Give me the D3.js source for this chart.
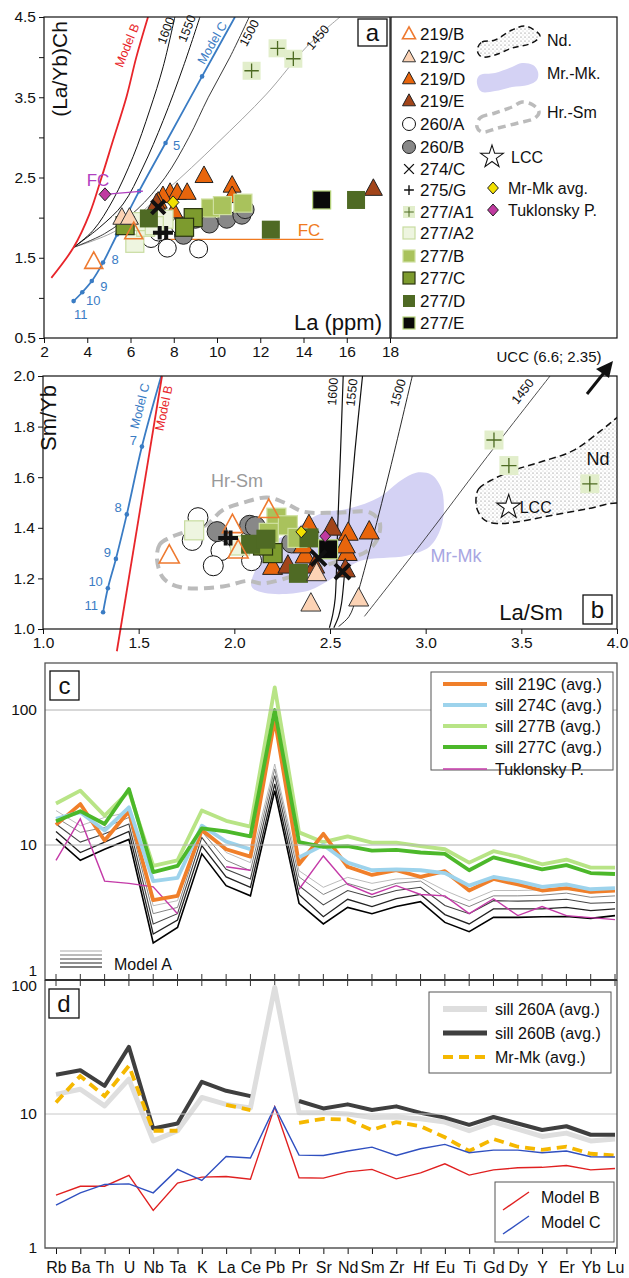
<!DOCTYPE html>
<html><head><meta charset="utf-8">
<script src="https://cdn.jsdelivr.net/npm/d3@7"></script>
<style>body{margin:0;background:#fff} svg{display:block} text{font-family:"Liberation Sans",Arial,sans-serif}</style>
</head><body><script>
// ================= DATA =================
const elements = ["Rb","Ba","Th","U","Nb","Ta","K","La","Ce","Pb","Pr","Sr","Nd","Sm","Zr","Hf","Eu","Ti","Gd","Dy","Y","Er","Yb","Lu"];

// panel a : [La ppm, (La/Yb)Ch]
const a219B = [[4.3,1.45],[6.15,1.82]];
const a219C = [[5.6,2.0],[5.95,2.0]];
const a219D = [[9.4,2.52],[10.7,2.40],[10.7,2.27],[7.83,2.31],[8.16,2.31],[8.62,2.31],[7.5,2.27],[7.28,2.2],[8.0,2.08]];
const a219E = [[17.23,2.36],[7.2,2.18]];
const a260A = [[6.95,1.74],[7.7,1.62],[9.15,1.61],[8.3,1.9],[7.3,1.82]];
const a260B = [[8.45,1.78],[9.0,1.98],[9.65,1.92],[10.45,1.98],[11.15,2.03],[11.3,2.1]];
const a274C = [[7.28,2.13]];
const a275G = [[7.35,1.81],[7.65,1.81]];
const a277A1 = [[11.6,3.83],[12.8,4.11],[13.53,3.98]];
const a277A2 = [[6.2,1.68],[6.7,1.88],[7.55,1.98],[6.4,1.95],[7.1,1.9]];
const a277B = [[9.7,2.12],[10.25,2.15],[11.2,2.18]];
const a277C = [[5.75,1.9],[8.9,2.0],[8.5,1.88]];
const a277D = [[6.85,1.99],[12.49,1.85],[16.43,2.22]];
const a277E = [[14.84,2.22]];
const aMrMk = [[7.97,2.19]];
const aTuk = [[4.82,2.29]];

// panel a curves
const aModelB = [[2.34,1.25],[3.37,1.63],[4.11,2.05],[4.65,2.49],[5.19,2.96],[5.81,3.50],[6.27,4.00],[6.81,4.5]];
const a1600 = [[3.37,1.63],[4.27,1.84],[5.19,2.22],[6.12,2.76],[6.89,3.34],[7.51,3.88],[8.05,4.5]];
const a1550 = [[3.37,1.63],[4.58,1.88],[5.66,2.17],[6.58,2.63],[7.51,3.21],[8.44,3.88],[9.21,4.5]];
const a1500 = [[3.37,1.63],[4.8,1.8],[6.3,2.1],[7.6,2.5],[8.7,3.0],[9.6,3.5],[10.6,4.0],[11.49,4.5]];
const a1450 = [[3.37,1.63],[5.35,1.84],[7.66,2.34],[9.98,2.92],[12.29,3.54],[14.15,4.13],[15.69,4.5]];
const aModelC = [[3.37,0.96],[3.77,1.07],[4.21,1.21],[4.73,1.44],[5.38,1.79],[6.40,2.33],[7.62,2.93],[9.31,3.76],[10.83,4.5]];
const aModelCdots = ["11","10","9","8","","","5",""];
const aFCpurple = [[4.82,2.29],[6.58,2.33]];
const aFCorange = [[6.81,1.73],[14.92,1.73]];
const yTicksA = [0.5,1,1.5,2,2.5,3,3.5,4,4.5];
const yLabelsA = [0.5,1.5,2.5,3.5,4.5];

// panel b : [La/Sm, Sm/Yb]
const b219B = [[1.66,1.29],[1.99,1.41],[2.18,1.47],[2.02,1.31]];
const b219C = [[2.40,1.10],[2.65,1.12],[2.43,1.22]];
const b219D = [[2.39,1.41],[2.595,1.38],[2.705,1.385],[2.59,1.30],[2.37,1.29],[2.36,1.33],[2.20,1.245],[2.58,1.33]];
const b219E = [[2.51,1.40],[2.58,1.235],[2.28,1.25],[2.42,1.25]];
const b260A = [[1.81,1.44],[1.78,1.35],[1.93,1.31],[1.89,1.25],[2.09,1.27],[2.08,1.35]];
const b260B = [[1.91,1.385],[2.08,1.41],[2.11,1.405],[2.30,1.34]];
const b274C = [[2.565,1.227],[2.44,1.28]];
const b275G = [[1.955,1.36],[1.98,1.36]];
const b277A1 = [[3.357,1.747],[3.435,1.646],[3.858,1.574]];
const b277A2 = [[1.79,1.39],[2.03,1.33]];
const b277B = [[2.22,1.44],[2.28,1.41],[2.18,1.38],[2.33,1.36]];
const b277C = [[2.2,1.30],[2.15,1.33]];
const b277D = [[2.085,1.335],[2.165,1.355],[2.335,1.22],[2.39,1.36]];
const b277E = [[2.49,1.315]];
const bMrMk = [[2.35,1.384]];
const bTuk = [[2.475,1.367]];
const bLCC = [[3.434,1.482]];

const bModelC = [[1.314,1.066],[1.339,1.161],[1.381,1.277],[1.438,1.453],[1.517,1.721],[1.618,2.0]];
const bModelCdots = ["11","10","9","8","7"];
const bModelB = [[1.386,0.912],[1.622,2.0]];
const b1600 = [[2.497,1.005],[2.515,1.06],[2.527,1.12],[2.54,1.4],[2.555,1.7],[2.569,2.0]];
const b1550 = [[2.52,1.005],[2.545,1.05],[2.56,1.1],[2.59,1.35],[2.63,1.7],[2.67,2.0]];
const b1500 = [[2.545,1.01],[2.6,1.05],[2.64,1.13],[2.72,1.35],[2.82,1.65],[2.93,2.0]];
const b1450 = [[2.68,1.05],[3.0,1.36],[3.3,1.66],[3.65,2.0]];
const bHrSm = [[1.596,1.275],[1.61,1.334],[1.66,1.36],[1.73,1.38],[1.85,1.41],[1.94,1.47],[2.05,1.50],[2.17,1.52],[2.26,1.50],[2.36,1.464],[2.54,1.46],[2.71,1.46],[2.76,1.42],[2.746,1.353],[2.69,1.306],[2.55,1.27],[2.35,1.22],[2.15,1.18],[2.07,1.19],[1.94,1.168],[1.72,1.165],[1.63,1.20]];
const bMrMkField = [[2.09,1.168],[2.12,1.25],[2.18,1.33],[2.28,1.377],[2.45,1.456],[2.60,1.476],[2.76,1.522],[2.87,1.587],[2.95,1.618],[3.03,1.61],[3.08,1.56],[3.095,1.49],[3.08,1.40],[3.02,1.325],[2.90,1.29],[2.66,1.27],[2.55,1.22],[2.49,1.19],[2.37,1.148],[2.16,1.142]];
const bNdField = [[3.263,1.515],[3.277,1.554],[3.34,1.587],[3.455,1.626],[3.60,1.66],[3.77,1.705],[3.916,1.784],[4.0,1.836],[4.1,1.9],[4.2,1.7],[4.1,1.48],[4.0,1.498],[3.853,1.476],[3.665,1.45],[3.476,1.423],[3.372,1.417],[3.309,1.43],[3.271,1.469]];

// panel c (normalised concentrations)
const c219C = [14.1,20.1,10.8,17.8,3.9,4.2,12.9,9.3,8.2,85,7.2,12.1,6.9,6.0,6.5,5.8,6.4,4.6,5.6,5.1,4.6,4.8,4.5,4.6];
const c274C = [15.6,17.5,12.8,19.0,5.4,5.7,13.9,10.6,9.3,null,8.1,10.0,7.4,6.5,6.6,6.5,6.2,5.0,5.8,5.4,4.9,5.1,4.7,4.8];
const c277B = [20.3,25.3,16.5,25.0,7.0,7.7,18.0,15.1,13.7,147,12.4,10.5,11.6,10.4,10.4,9.8,9.3,7.4,9.0,8.2,7.2,7.8,6.8,6.8];
const c277C = [15.0,17.8,14.3,26.0,6.3,7.0,13.3,12.6,11.6,100,10.5,9.7,9.8,9.1,9.2,8.8,8.6,6.5,8.1,7.3,6.6,7.1,6.2,6.1];
const cTuk = [7.7,15.6,5.4,5.2,4.9,3.1,null,6.9,6.5,null,4.7,8.3,5.1,4.3,5.0,4.3,4.2,3.1,4.0,3.0,3.5,3.0,2.9,2.8];
const cModelA1 = [11.1,7.7,9.3,11.0,1.88,2.45,8.6,5.0,4.2,25.3,3.7,2.6,3.45,3.1,3.5,3.8,2.67,2.28,2.91,2.91,2.94,2.95,2.86,3.0];
const cModelA2 = [12.6,8.8,10.5,12.6,2.19,2.78,9.9,5.8,4.86,28.3,4.3,2.94,3.96,3.5,4.0,4.3,3.05,2.6,3.36,3.36,3.36,3.45,3.26,3.36];
const cModelA3 = [14.3,10.5,12.1,14.3,2.6,3.1,11.4,6.6,5.6,32.6,5.0,3.6,4.6,4.1,4.6,4.86,3.56,3.1,3.87,3.84,3.87,3.96,3.7,3.75];
const cModelA4 = [16.0,12.4,13.5,16.0,3.1,3.45,12.6,7.7,6.45,36.6,5.8,4.3,5.2,4.6,5.2,5.4,4.1,3.5,4.2,4.2,4.25,4.4,4.1,4.2];
const cModelA5 = [18.0,13.9,16.0,17.5,3.55,3.87,13.9,8.8,7.4,39.8,6.45,4.86,5.76,5.2,5.6,5.7,4.6,3.87,4.6,4.6,4.65,4.77,4.4,4.6];

// panel d
const d260A = [14.0,15.3,11.5,18.2,6.3,7.5,13.3,11.8,11.1,88,10.2,10.2,10.0,9.4,9.5,9.2,8.7,7.5,8.7,7.7,6.8,7.2,6.3,6.5];
const d260B = [19.6,21.2,16.2,31.7,7.8,8.5,17.4,14.9,13.6,null,12.5,11.0,11.8,10.7,11.4,10.2,9.4,8.3,9.5,8.5,7.6,8.1,7.0,7.0];
const dMrMk = [12.2,19.2,13.6,22.9,7.5,7.5,null,11.7,10.7,null,8.6,9.2,9.1,7.6,8.7,8.1,6.7,5.3,6.5,5.7,5.4,5.7,5.05,4.9];
const dModelB = [2.48,2.89,2.89,3.48,1.91,3.05,3.38,3.42,3.26,11.3,3.34,3.32,3.7,3.86,3.28,3.64,4.25,3.5,3.83,3.97,4.0,4.13,3.83,3.92];
const dModelC = [2.09,2.58,2.98,3.01,2.58,3.86,3.19,4.82,4.69,11.3,4.93,4.9,5.3,5.66,4.9,5.5,5.93,5.14,5.38,5.38,5.14,5.3,4.8,4.78];

const legendA = ["219/B","219/C","219/D","219/E","260/A","260/B","274/C","275/G","277/A1","277/A2","277/B","277/C","277/D","277/E"];

// ================= STYLES =================
const STY = {
 "219/B":{shape:"tri",fill:"none",stroke:"#ee7a30",sw:1.6},
 "219/C":{shape:"tri",fill:"#fcd3b5",stroke:"#333",sw:1},
 "219/D":{shape:"tri",fill:"#e8650c",stroke:"#222",sw:1},
 "219/E":{shape:"tri",fill:"#a2451a",stroke:"#222",sw:1},
 "260/A":{shape:"circ",fill:"#fff",stroke:"#111",sw:1},
 "260/B":{shape:"circ",fill:"#888",stroke:"#222",sw:1},
 "274/C":{shape:"x",stroke:"#111"},
 "275/G":{shape:"plus",stroke:"#111"},
 "277/A1":{shape:"sqplus",fill:"#e2eecb",stroke:"none",plus:"#4d6b22"},
 "277/A2":{shape:"sq",fill:"#eef5e0",stroke:"#c8dca0",sw:1.2},
 "277/B":{shape:"sq",fill:"#a9c25c",stroke:"#cfe0a0",sw:1.2},
 "277/C":{shape:"sq",fill:"#7d9b2e",stroke:"#2a3510",sw:1.2},
 "277/D":{shape:"sq",fill:"#4f6a24",stroke:"none",sw:0},
 "277/E":{shape:"sq",fill:"#0a0a0a",stroke:"#b8d67c",sw:1.2},
 "MrMk":{shape:"dia",fill:"#f2e000",stroke:"#222",sw:1},
 "Tuk":{shape:"dia",fill:"#c03aa0",stroke:"#222",sw:1},
 "LCC":{shape:"star",fill:"#fff",stroke:"#111",sw:1.1}
};

const W=629,H=1278;
const svg = d3.select("body").append("svg").attr("width",W).attr("height",H);
const defs = svg.append("defs");
const pat = defs.append("pattern").attr("id","stip").attr("width",4).attr("height",4).attr("patternUnits","userSpaceOnUse");
pat.append("circle").attr("cx",1).attr("cy",1).attr("r",0.55).attr("fill","#666");
pat.append("circle").attr("cx",3).attr("cy",3).attr("r",0.45).attr("fill","#888");

function drawSym(g,key,cx,cy,s,thick){
  const st=STY[key]; const h=s/2;
  if(st.shape==="tri"){
    const hh=s*0.92;
    g.append("path").attr("d",`M${cx},${cy-hh*0.6}L${cx+h},${cy+hh*0.4}L${cx-h},${cy+hh*0.4}Z`)
     .attr("fill",st.fill).attr("stroke",st.stroke).attr("stroke-width",st.sw).attr("stroke-linejoin","miter");
  } else if(st.shape==="circ"){
    g.append("circle").attr("cx",cx).attr("cy",cy).attr("r",h).attr("fill",st.fill).attr("stroke",st.stroke).attr("stroke-width",st.sw);
  } else if(st.shape==="sq"){
    g.append("rect").attr("x",cx-h).attr("y",cy-h).attr("width",s).attr("height",s).attr("fill",st.fill).attr("stroke",st.stroke).attr("stroke-width",st.sw);
  } else if(st.shape==="sqplus"){
    g.append("rect").attr("x",cx-h).attr("y",cy-h).attr("width",s).attr("height",s).attr("fill",st.fill);
    g.append("path").attr("d",`M${cx-h*0.8},${cy}H${cx+h*0.8}M${cx},${cy-h*0.8}V${cy+h*0.8}`).attr("stroke",st.plus).attr("stroke-width",thick?1.3:1);
  } else if(st.shape==="x"){
    const k=h*0.75;
    g.append("path").attr("d",`M${cx-k},${cy-k}L${cx+k},${cy+k}M${cx-k},${cy+k}L${cx+k},${cy-k}`).attr("stroke",st.stroke).attr("stroke-width",thick?4:1.4);
  } else if(st.shape==="plus"){
    const k=h*0.75;
    g.append("path").attr("d",`M${cx-k},${cy}H${cx+k}M${cx},${cy-k}V${cy+k}`).attr("stroke",st.stroke).attr("stroke-width",thick?4:1.4);
  } else if(st.shape==="dia"){
    g.append("path").attr("d",`M${cx},${cy-h}L${cx+h*0.9},${cy}L${cx},${cy+h}L${cx-h*0.9},${cy}Z`).attr("fill",st.fill).attr("stroke",st.stroke).attr("stroke-width",st.sw);
  } else if(st.shape==="star"){
    g.append("path").attr("transform",`translate(${cx},${cy})`).attr("d",d3.symbol(d3.symbolStar,s*s*0.55)())
      .attr("fill",st.fill).attr("stroke",st.stroke).attr("stroke-width",st.sw);
  }
}
function txt(g,x,y,s,opts={}){
  const t=g.append("text").attr("x",x).attr("y",y).text(s)
    .attr("font-size",opts.size||15).attr("fill",opts.fill||"#111")
    .attr("text-anchor",opts.anchor||"start");
  if(opts.rot!==undefined) t.attr("transform",`rotate(${opts.rot},${x},${y})`);
  if(opts.base) t.attr("dominant-baseline",opts.base);
  return t;
}
function styleAxis(g){
  g.select(".domain").remove();
  g.selectAll(".tick line").attr("stroke","#111");
  g.selectAll(".tick text").attr("font-size",15.5).attr("fill","#111").attr("font-family","Liberation Sans, Arial, sans-serif");
}

// ================= PANEL A =================
const xA = d3.scaleLinear().domain([2,18]).range([44,390]);
const yA = d3.scaleLinear().domain([0.5,4.5]).range([338,17]);
defs.append("clipPath").attr("id","clipA").append("rect").attr("x",44).attr("y",17).attr("width",346).attr("height",321);
const gA = svg.append("g");
const gAc = gA.append("g").attr("clip-path","url(#clipA)");
const lnA = d3.line().x(d=>xA(d[0])).y(d=>yA(d[1])).curve(d3.curveCatmullRom);
gAc.append("path").attr("d",lnA(a1450)).attr("fill","none").attr("stroke","#999").attr("stroke-width",0.9);
gAc.append("path").attr("d",lnA(a1500)).attr("fill","none").attr("stroke","#222").attr("stroke-width",0.9);
gAc.append("path").attr("d",lnA(a1550)).attr("fill","none").attr("stroke","#111").attr("stroke-width",1);
gAc.append("path").attr("d",lnA(a1600)).attr("fill","none").attr("stroke","#111").attr("stroke-width",1);
gAc.append("path").attr("d",lnA(aModelB)).attr("fill","none").attr("stroke","#e8252a").attr("stroke-width",1.8);
gAc.append("path").attr("d",lnA(aModelC)).attr("fill","none").attr("stroke","#3a7cc4").attr("stroke-width",1.8);
aModelC.slice(0,8).forEach(d=>gAc.append("circle").attr("cx",xA(d[0])).attr("cy",yA(d[1])).attr("r",2.3).attr("fill","#3a7cc4"));
const dotOff = [[7,13],[11,8],[12,5],[12,-4],null,null,[11,2]];
aModelCdots.forEach((l,i)=>{ if(l){ const d=aModelC[i], o=dotOff[i]; txt(gA,xA(d[0])+o[0],yA(d[1])+o[1]+5,l,{size:13,fill:"#3a7cc4",anchor:"middle"});}});
gAc.append("path").attr("d",d3.line().x(d=>xA(d[0])).y(d=>yA(d[1]))(aFCpurple)).attr("stroke","#b040c0").attr("stroke-width",1.3).attr("fill","none");
gAc.append("path").attr("d",d3.line().x(d=>xA(d[0])).y(d=>yA(d[1]))(aFCorange)).attr("stroke","#f07a20").attr("stroke-width",1.3).attr("fill","none");
txt(gA,98,186,"FC",{size:17,fill:"#b040c0",anchor:"middle"});
txt(gA,309,236,"FC",{size:17,fill:"#f07a20",anchor:"middle"});
txt(gA,131,47,"Model B",{size:12.5,fill:"#e8252a",anchor:"middle",rot:-68});
txt(gA,170,32,"1600",{size:12.5,anchor:"middle",rot:-70});
txt(gA,191,30,"1550",{size:12.5,anchor:"middle",rot:-68});
txt(gA,216,45,"Model C",{size:12.5,fill:"#3a7cc4",anchor:"middle",rot:-60});
txt(gA,253,35,"1500",{size:12.5,anchor:"middle",rot:-62});
txt(gA,321,40,"1450",{size:12.5,anchor:"middle",rot:-50});

function plotSet(g,data,key,xs,ys,s,thick){ data.forEach(d=>drawSym(g,key,xs(d[0]),ys(d[1]),s,thick)); }
const orderA = [[a260A,"260/A"],[a260B,"260/B"],[a219D,"219/D"],[a219E,"219/E"],[a277A2,"277/A2"],[a277B,"277/B"],[a277C,"277/C"],[a277D,"277/D"],[a277E,"277/E"],[a277A1,"277/A1"],[a219C,"219/C"],[a219B,"219/B"],[a274C,"274/C"],[a275G,"275/G"],[aMrMk,"MrMk"],[aTuk,"Tuk"]];
orderA.forEach(([d,k])=>plotSet(gAc,d,k,xA,yA,(k==="MrMk"||k==="Tuk")?13:18,true));

const axAy = gA.append("g").attr("transform","translate(44,0)").call(d3.axisLeft(yA).tickValues(yTicksA).tickSize(5).tickPadding(3).tickFormat(d=>yLabelsA.includes(d)?d.toFixed(1):""));
styleAxis(axAy);
const axAx = gA.append("g").attr("transform","translate(0,338)").call(d3.axisBottom(xA).tickValues(d3.range(2,18.1,2)).tickSize(5).tickPadding(3));
styleAxis(axAx);
gA.append("rect").attr("x",44).attr("y",17).attr("width",346).attr("height",321).attr("fill","none").attr("stroke","#111").attr("stroke-width",1.2);
txt(gA,67,69,"(La/Yb)Ch",{size:21,anchor:"middle",rot:-90});
txt(gA,382,330,"La (ppm)",{size:22,anchor:"end"});
gA.append("rect").attr("x",358).attr("y",19).attr("width",29).attr("height",27).attr("fill","#fff").attr("stroke","#111").attr("stroke-width",1.3);
txt(gA,372.5,41,"a",{size:24,anchor:"middle"});

// legend A
const gL = svg.append("g");
gL.append("rect").attr("x",391).attr("y",17).attr("width",226).attr("height",321).attr("fill","#fff").attr("stroke","#111").attr("stroke-width",1.2);
const legY=[34,57,79,101,124,147,169,190,212,233,256,278,301,323];
legendA.forEach((k,i)=>{ drawSym(gL,k,409,legY[i],k.startsWith("277")?12:13,false); txt(gL,420,legY[i]+6,k,{size:17}); });
const lnL = d3.line().curve(d3.curveCatmullRomClosed);
gL.append("path").attr("d",lnL([[478,47],[482,42],[495,40],[512,30],[525,26],[537,32],[540,36],[532,43],[512,48],[495,55],[482,57],[478,53]])).attr("fill","url(#stip)").attr("stroke","#111").attr("stroke-width",1.5).attr("stroke-dasharray","6,4");
gL.append("path").attr("d",lnL([[477,80],[480,75],[495,73],[512,67],[522,63],[533,65],[538,72],[537,80],[528,85],[512,87],[495,91],[482,92],[478,87]])).attr("fill","#d4d2f4");
gL.append("path").attr("d",lnL([[477,127],[480,118],[495,113],[512,107],[522,102],[533,105],[539,112],[535,118],[518,123],[498,128],[482,132]])).attr("fill","none").attr("stroke","#bbb").attr("stroke-width",3.5).attr("stroke-dasharray","8,5");
txt(gL,547,46,"Nd.",{size:16});
txt(gL,547,79,"Mr.-Mk.",{size:16});
txt(gL,547,118,"Hr.-Sm",{size:16});
drawSym(gL,"LCC",492,157,17,false); txt(gL,511,163,"LCC",{size:16});
drawSym(gL,"MrMk",493,188,12,false); txt(gL,508,194,"Mr-Mk avg.",{size:16});
drawSym(gL,"Tuk",493,210,12,false); txt(gL,508,216,"Tuklonsky P.",{size:16});

// ================= PANEL B =================
const xB = d3.scaleLinear().domain([1,4]).range([43,617]);
const yB = d3.scaleLinear().domain([1,2]).range([629,376]);
defs.append("clipPath").attr("id","clipB").append("rect").attr("x",43).attr("y",376).attr("width",574).attr("height",253);
const gB = svg.append("g");
const gBc = gB.append("g").attr("clip-path","url(#clipB)");
const lnBc = d3.line().x(d=>xB(d[0])).y(d=>yB(d[1])).curve(d3.curveCatmullRomClosed);
const lnB = d3.line().x(d=>xB(d[0])).y(d=>yB(d[1])).curve(d3.curveCatmullRom);
gBc.append("path").attr("d",lnBc(bMrMkField)).attr("fill","#d4d2f4");
gBc.append("path").attr("d",lnBc(bNdField)).attr("fill","url(#stip)").attr("stroke","#111").attr("stroke-width",1.5).attr("stroke-dasharray","7,4");
gBc.append("path").attr("d",lnBc(bHrSm)).attr("fill","none").attr("stroke","#bbb").attr("stroke-width",4).attr("stroke-dasharray","10,6");
[[b1600,"#111",1.2],[b1550,"#111",1.2],[b1500,"#111",0.9],[b1450,"#222",0.8]].forEach(([d,c,w])=>gBc.append("path").attr("d",lnB(d)).attr("fill","none").attr("stroke",c).attr("stroke-width",w));
gB.append("path").attr("d",d3.line().x(d=>xB(d[0])).y(d=>yB(d[1]))(bModelB)).attr("fill","none").attr("stroke","#e8252a").attr("stroke-width",1.8);
gBc.append("path").attr("d",lnB(bModelC)).attr("fill","none").attr("stroke","#3a7cc4").attr("stroke-width",1.8);
bModelC.slice(0,5).forEach((d,i)=>{ gBc.append("circle").attr("cx",xB(d[0])).attr("cy",yB(d[1])).attr("r",2.3).attr("fill","#3a7cc4");
  txt(gB,xB(d[0])-5,yB(d[1])-2,bModelCdots[i],{size:13,fill:"#3a7cc4",anchor:"end"}); });
txt(gB,337,392,"1600",{size:12.5,anchor:"middle",rot:-86});
txt(gB,356,393,"1550",{size:12.5,anchor:"middle",rot:-84});
txt(gB,402,394,"1500",{size:12.5,anchor:"middle",rot:-73});
txt(gB,526,394,"1450",{size:12.5,anchor:"middle",rot:-52});
txt(gB,144,407,"Model C",{size:12.5,fill:"#3a7cc4",anchor:"middle",rot:-76});
txt(gB,168,409,"Model B",{size:12.5,fill:"#e8252a",anchor:"middle",rot:-78});
txt(gB,237,487,"Hr-Sm",{size:18,fill:"#999",anchor:"middle"});
txt(gB,456,562,"Mr-Mk",{size:18,fill:"#a8a6e2",anchor:"middle"});
txt(gB,598,465,"Nd",{size:18,anchor:"middle"});
const orderB = [[b260A,"260/A"],[b260B,"260/B"],[b277A2,"277/A2"],[b219D,"219/D"],[b219E,"219/E"],[b277B,"277/B"],[b277C,"277/C"],[b277D,"277/D"],[b277E,"277/E"],[b219C,"219/C"],[b219B,"219/B"],[b274C,"274/C"],[b275G,"275/G"],[b277A1,"277/A1"],[bMrMk,"MrMk"],[bTuk,"Tuk"]];
orderB.forEach(([d,k])=>plotSet(gBc,d,k,xB,yB,(k==="MrMk"||k==="Tuk")?12:(k.startsWith("277")?19:20),true));
plotSet(gBc,bLCC,"LCC",xB,yB,18,false);
txt(gB,xB(bLCC[0][0])+11,yB(bLCC[0][1])+6,"LCC",{size:16});
const axBy = gB.append("g").attr("transform","translate(43,0)").call(d3.axisLeft(yB).tickValues(d3.range(1,2.01,0.2)).tickSize(5).tickPadding(3).tickFormat(d3.format(".1f")));
styleAxis(axBy);
const axBx = gB.append("g").attr("transform","translate(0,629)").call(d3.axisBottom(xB).tickValues(d3.range(1,4.01,0.5)).tickSize(5).tickPadding(3).tickFormat(d3.format(".1f")));
styleAxis(axBx);
gB.append("rect").attr("x",43).attr("y",376).attr("width",574).attr("height",253).attr("fill","none").attr("stroke","#111").attr("stroke-width",1.2);
txt(gB,56,418,"Sm/Yb",{size:22,anchor:"middle",rot:-90});
txt(gB,531,620,"La/Sm",{size:22,anchor:"middle"});
gB.append("rect").attr("x",583).attr("y",595).attr("width",29).attr("height",29).attr("fill","#fff").attr("stroke","#111").attr("stroke-width",1.3);
txt(gB,597.5,618,"b",{size:24,anchor:"middle"});
txt(gB,549,362,"UCC (6.6; 2.35)",{size:15,anchor:"middle"});
gB.append("path").attr("d","M587,394L607,369").attr("stroke","#111").attr("stroke-width",3);
gB.append("path").attr("d","M613,361L596,369L609,378Z").attr("fill","#111");

// ================= PANEL C =================
const xC = d3.scalePoint().domain(elements).range([56,615]);
const yC = d3.scaleLog().domain([1,100]).range([980,710]);
const gC = svg.append("g");
defs.append("clipPath").attr("id","clipC").append("rect").attr("x",45).attr("y",663).attr("width",572).attr("height",317);
const gCc = gC.append("g").attr("clip-path","url(#clipC)");
[10,100].forEach(v=>gC.append("line").attr("x1",45).attr("x2",617).attr("y1",yC(v)).attr("y2",yC(v)).attr("stroke","#b0b0b0").attr("stroke-width",1));
const lnC = d3.line().defined(d=>d!==null).x((d,i)=>xC(elements[i])).y(d=>yC(d));
const modelAStyles=[[cModelA1,"#000",1.6],[cModelA2,"#222",1.3],[cModelA3,"#444",1.1],[cModelA4,"#777",0.9],[cModelA5,"#aaa",0.8]];
modelAStyles.forEach(([d,c,w])=>gCc.append("path").attr("d",lnC(d)).attr("fill","none").attr("stroke",c).attr("stroke-width",w));
gCc.append("path").attr("d",lnC(cTuk)).attr("fill","none").attr("stroke","#c43aa8").attr("stroke-width",1.4);
[[c277B,"#b8e486"],[c219C,"#f07f2a"],[c274C,"#9dd3ec"],[c277C,"#4cb82a"]].forEach(([d,c])=>gCc.append("path").attr("d",lnC(d)).attr("fill","none").attr("stroke",c).attr("stroke-width",3.8).attr("stroke-linejoin","round"));
const axCy = gC.append("g").attr("transform","translate(45,0)").call(d3.axisLeft(yC).tickValues([1,10,100]).tickSize(0).tickPadding(8).tickFormat(d3.format("d")));
styleAxis(axCy);
axCy.selectAll(".tick text").filter(d=>d===1).attr("dy","-0.3em");
gC.append("rect").attr("x",45).attr("y",663).attr("width",572).attr("height",317).attr("fill","none").attr("stroke","#555").attr("stroke-width",1.3);
gC.append("rect").attr("x",50).attr("y",671).attr("width",29).attr("height",29).attr("fill","#fff").attr("stroke","#111").attr("stroke-width",1.3);
txt(gC,64.5,694,"c",{size:24,anchor:"middle"});
// legend c
gC.append("rect").attr("x",431).attr("y",672).attr("width",182).attr("height",98).attr("fill","#fff").attr("stroke","#555").attr("stroke-width",1);
const legC=[["sill 219C (avg.)","#f07f2a",4],["sill 274C (avg.)","#9dd3ec",4],["sill 277B (avg.)","#b8e486",4],["sill 277C (avg.)","#4cb82a",4],["Tuklonsky P.","#c43aa8",1.5]];
legC.forEach(([t,c,w],i)=>{ const y=[689,710,731,752,774][i]-5; gC.append("line").attr("x1",443).attr("x2",487).attr("y1",y).attr("y2",y).attr("stroke",c).attr("stroke-width",w); txt(gC,495,y+6,t,{size:16}); });
["#aaa","#777","#444","#222","#000"].forEach((c,i)=>gC.append("line").attr("x1",60).attr("x2",102).attr("y1",951+i*4).attr("y2",951+i*4).attr("stroke",c).attr("stroke-width",1.1));
txt(gC,114,970,"Model A",{size:16});
elements.forEach(e=>gC.append("line").attr("x1",xC(e)).attr("x2",xC(e)).attr("y1",974).attr("y2",986).attr("stroke","#333").attr("stroke-width",1));

// ================= PANEL D =================
const yD = d3.scaleLog().domain([1,100]).range([1248,980]);
const gD = svg.append("g");
defs.append("clipPath").attr("id","clipD").append("rect").attr("x",45).attr("y",980).attr("width",572).attr("height",268);
const gDc = gD.append("g").attr("clip-path","url(#clipD)");
gD.append("line").attr("x1",45).attr("x2",617).attr("y1",yD(10)).attr("y2",yD(10)).attr("stroke","#c8c8c8").attr("stroke-width",1);
const lnD = d3.line().defined(d=>d!==null).x((d,i)=>xC(elements[i])).y(d=>yD(d));
gDc.append("path").attr("d",lnD(d260A)).attr("fill","none").attr("stroke","#dedede").attr("stroke-width",5).attr("stroke-linejoin","round");
gDc.append("path").attr("d",lnD(d260B)).attr("fill","none").attr("stroke","#3f3f3f").attr("stroke-width",4).attr("stroke-linejoin","round");
gDc.append("path").attr("d",lnD(dMrMk)).attr("fill","none").attr("stroke","#f5b800").attr("stroke-width",3.8).attr("stroke-dasharray","10,6");
gDc.append("path").attr("d",lnD(dModelB)).attr("fill","none").attr("stroke","#e02020").attr("stroke-width",1.4);
gDc.append("path").attr("d",lnD(dModelC)).attr("fill","none").attr("stroke","#3050c0").attr("stroke-width",1.4);
const axDy = gD.append("g").attr("transform","translate(45,0)").call(d3.axisLeft(yD).tickValues([1,10,100]).tickSize(0).tickPadding(8).tickFormat(d3.format("d")));
styleAxis(axDy);
axDy.selectAll(".tick text").filter(d=>d===100).attr("dy","0.7em");
const axDx = gD.append("g").attr("transform","translate(0,1248)").call(d3.axisBottom(xC).tickSize(6).tickPadding(8));
styleAxis(axDx);
axDx.selectAll(".tick text").attr("font-size",16);
gD.append("path").attr("d","M45,980V1248H617V980").attr("fill","none").attr("stroke","#555").attr("stroke-width",1.3);
gD.append("line").attr("x1",45).attr("x2",617).attr("y1",980).attr("y2",980).attr("stroke","#333").attr("stroke-width",2);
gD.append("rect").attr("x",49).attr("y",989).attr("width",30).attr("height",29).attr("fill","#fff").attr("stroke","#111").attr("stroke-width",1.3);
txt(gD,64,1012,"d",{size:24,anchor:"middle"});
gD.append("rect").attr("x",429).attr("y",992).attr("width",182).attr("height",81).attr("fill","#fff").attr("stroke","#555").attr("stroke-width",1);
[["sill 260A (avg.)","#dedede",6,null],["sill 260B (avg.)","#3f3f3f",5,null],["Mr-Mk (avg.)","#f5b800",4,"10,6"]].forEach(([t,c,w,da],i)=>{
  const y=[1014,1038,1062][i]-5;
  const l=gD.append("line").attr("x1",443).attr("x2",487).attr("y1",y).attr("y2",y).attr("stroke",c).attr("stroke-width",w);
  if(da) l.attr("stroke-dasharray",da);
  txt(gD,495,y+6,t,{size:16});
});
gD.append("rect").attr("x",495).attr("y",1182).attr("width",119).attr("height",60).attr("fill","#fff").attr("stroke","#555").attr("stroke-width",1);
gD.append("line").attr("x1",503).attr("y1",1210).attr("x2",529).attr("y2",1192).attr("stroke","#e02020").attr("stroke-width",1.4);
gD.append("line").attr("x1",503).attr("y1",1234).attr("x2",529).attr("y2",1216).attr("stroke","#3050c0").attr("stroke-width",1.4);
txt(gD,541,1203,"Model B",{size:16});
txt(gD,541,1228,"Model C",{size:16});
</script></body></html>
